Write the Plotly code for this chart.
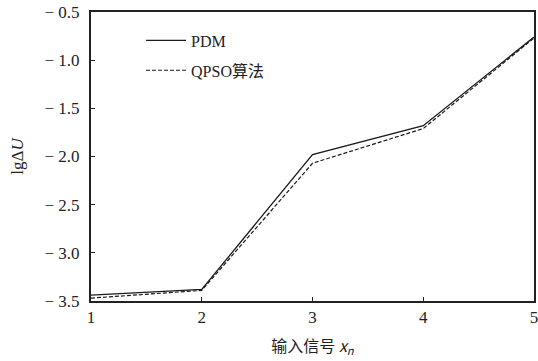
import plotly.graph_objects as go

x_vals = [1, 2, 3, 4, 5]
pdm = [-3.44, -3.38, -1.98, -1.68, -0.76]
qpso = [-3.47, -3.39, -2.07, -1.71, -0.77]
y_ticks = [-3.5, -3.0, -2.5, -2.0, -1.5, -1.0, -0.5]
y_ticktext = ["− 3.5", "− 3.0", "− 2.5", "− 2.0", "− 1.5", "− 1.0", "− 0.5"]

serif = "Liberation Serif, DejaVu Serif, serif"

fig = go.Figure()
fig.add_trace(go.Scatter(x=x_vals, y=pdm, mode="lines", name="PDM", legendgroup="a",
                         line=dict(color="#1a1a1a", width=1.3)))
fig.add_trace(go.Scatter(x=x_vals, y=qpso, mode="lines", name="QPSO算法", legendgroup="b",
                         line=dict(color="#1a1a1a", width=1.2, dash="4px,2px")))

fig.update_layout(
    width=538, height=361,
    margin=dict(l=91, r=4, t=12, b=60, autoexpand=False),
    paper_bgcolor="white", plot_bgcolor="white",
    font=dict(family=serif, size=17, color="#222"),
    showlegend=True,
    legend=dict(x=0.113, y=0.96, xanchor="left", yanchor="top",
                bgcolor="rgba(0,0,0,0)", font=dict(size=16, family=serif + ", Noto Sans CJK SC"),
                tracegroupgap=6, itemwidth=40),
    xaxis=dict(range=[1, 5], tickvals=x_vals, ticks="inside", ticklen=4,
               tickcolor="#222", showline=True, linecolor="#222", linewidth=2,
               mirror=True, showgrid=False, zeroline=False, automargin=False,
               ticklabeloverflow="allow",
               title=dict(text="输入信号 <i>x</i><sub><i>n</i></sub>", standoff=14,
                          font=dict(size=16, family="Noto Sans CJK SC, " + serif))),
    yaxis=dict(range=[-3.5, -0.5], tickvals=y_ticks, ticktext=y_ticktext,
               ticks="inside", ticklen=4, tickcolor="#222", ticklabelstandoff=6,
               showline=True, linecolor="#222", linewidth=2, mirror=True,
               showgrid=False, zeroline=False, automargin=False,
               title=dict(text="lgΔ<i>U</i>", standoff=17, font=dict(size=17))),
)

fig.write_html("out.html", config={"displayModeBar": False},
               post_script="document.body.style.margin='0';document.body.style.overflow='hidden';")
